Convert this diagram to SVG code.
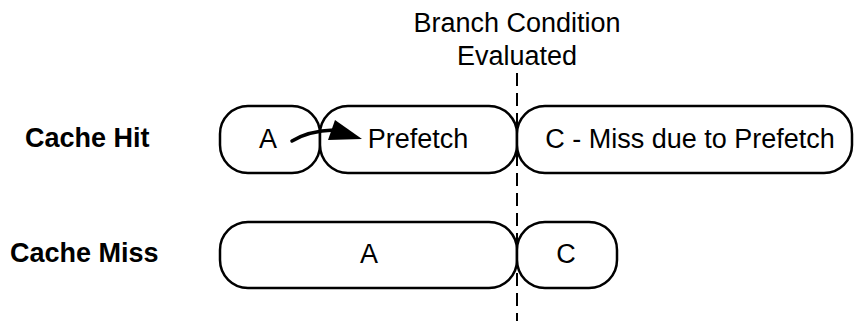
<svg xmlns="http://www.w3.org/2000/svg" width="854" height="321" viewBox="0 0 854 321">
<style>
.box{fill:#fff;stroke:#000;stroke-width:2.5}
.t{font-family:"Liberation Sans",Arial,sans-serif;font-size:27px;fill:#000;text-anchor:middle}
.b{font-family:"Liberation Sans",Arial,sans-serif;font-size:27px;font-weight:bold;fill:#000}
</style>
<rect width="854" height="321" fill="#fff"/>
<g id="label-branch">
<text class="t" x="517" y="32">Branch Condition</text>
<text class="t" x="517" y="65">Evaluated</text>
</g>
<g id="label-hit"><text class="b" x="25" y="147">Cache Hit</text></g>
<g id="label-miss"><text class="b" x="10" y="262">Cache Miss</text></g>
<g id="hit-a"><rect class="box" x="220" y="106" width="100" height="67" rx="28" ry="28"/><text class="t" x="268" y="148">A</text></g>
<g id="hit-prefetch"><rect class="box" x="320" y="106" width="197" height="67" rx="28" ry="28"/><text class="t" x="418" y="148">Prefetch</text></g>
<g id="hit-c"><rect class="box" x="517" y="106" width="335" height="67" rx="28" ry="28"/><text class="t" x="690" y="148">C - Miss due to Prefetch</text></g>
<g id="miss-a"><rect class="box" x="220" y="222" width="297" height="66" rx="28" ry="28"/><text class="t" x="369" y="263">A</text></g>
<g id="miss-c"><rect class="box" x="517" y="222" width="100" height="66" rx="28" ry="28"/><text class="t" x="566" y="263">C</text></g>
<g id="connectors">
<line x1="517" y1="73" x2="517" y2="321" stroke="#000" stroke-width="2" stroke-dasharray="13,7"/>
<path d="M292,141 Q308,131 334,130" fill="none" stroke="#000" stroke-width="3.5" stroke-linecap="round"/>
<polygon points="362,139 335,120 328,140" fill="#000"/>
</g>
</svg>
